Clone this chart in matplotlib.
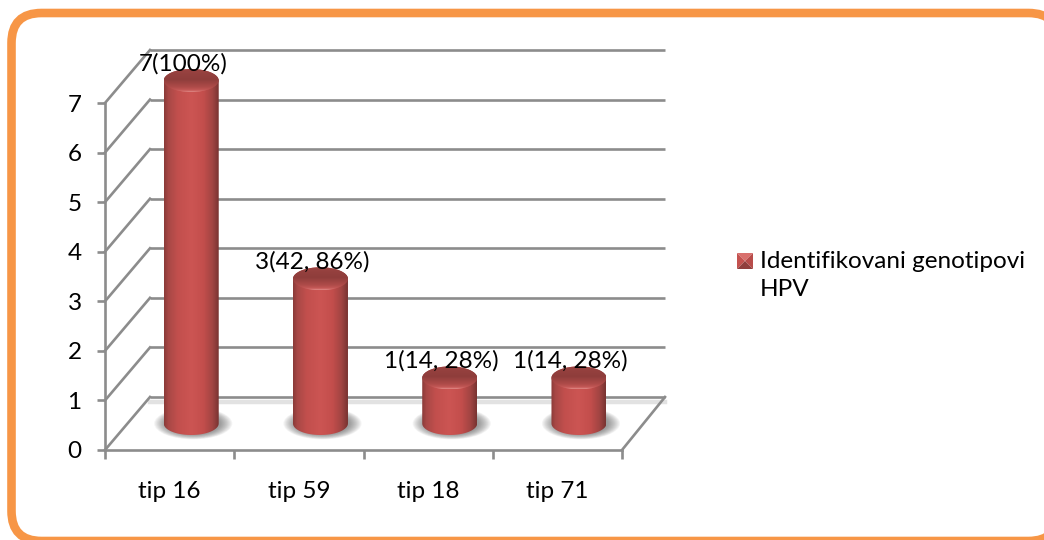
import numpy as np
import matplotlib
matplotlib.use("Agg")
import matplotlib.pyplot as plt
from matplotlib.patches import FancyBboxPatch, Ellipse, Polygon, PathPatch
from matplotlib.path import Path
from matplotlib.colors import LinearSegmentedColormap
from matplotlib.transforms import ScaledTranslation

categories = ["tip 16", "tip 59", "tip 18", "tip 71"]
values = [7, 3, 1, 1]
data_labels = ["7(100%)", "3(42, 86%)", "1(14, 28%)", "1(14, 28%)"]
y_ticks = [0, 1, 2, 3, 4, 5, 6, 7]
legend_text = "Identifikovani genotipovi\nHPV"

W, H = 1044, 540
plt.rcParams["font.family"] = ["Lato", "DejaVu Sans"]
FS = 17.5
GRID = "#8c8c8c"
fig = plt.figure(figsize=(W / 100, H / 100), dpi=100, facecolor="white")

# page frame and decoration layer, in pixels
bg = fig.add_axes([0, 0, 1, 1])
bg.set_xlim(0, W); bg.set_ylim(H, 0); bg.axis("off")
bg.add_patch(FancyBboxPatch((11.5, 13), 1047, 528, boxstyle="round,pad=0,rounding_size=30",
                            fc="white", ec="#F79646", lw=6.2, clip_on=True))

L, R, B, T = 105, 622, 450, 103
ax = fig.add_axes([L / W, 1 - B / H, (R - L) / W, (B - T) / H], facecolor="none")
ax.set_xlim(-0.5, len(categories) - 0.5)
ax.set_ylim(0, 7)
xmin, xmax = ax.get_xlim()

DX, DY = 45, 53
def shifted(px, py):
    return ax.transData + ScaledTranslation(px / 100, py / 100, fig.dpi_scale_trans)
back = shifted(DX, DY)
mid = shifted(DX * 0.48, DY * 0.5)
px_y = 7 / (B - T)
px_x = (xmax - xmin) / (R - L)
back_end = xmax - 2 * px_x

# walls and floor
lw_grid = 1.9
for v in y_ticks:
    ax.plot([xmin, back_end], [v, v], transform=back, color=GRID, lw=lw_grid, clip_on=False, zorder=1,
            solid_capstyle="butt")
    dx_d, dy_d = DX * px_x, DY * px_y
    ax.plot([xmin, xmin + dx_d], [v, v + dy_d], color=GRID, lw=lw_grid, clip_on=False, zorder=1)
ax.plot([xmin, back_end], [-5 * px_y, -5 * px_y], transform=back, color="#e2e2e2", lw=3.2,
        clip_on=False, zorder=0.9)
ax.plot([xmax, back_end + DX * px_x], [0, DY * px_y], color=GRID, lw=lw_grid, clip_on=False, zorder=1)

# cylinders
cm_body = LinearSegmentedColormap.from_list("body", [
    (0.0, "#8a3a38"), (0.08, "#a84846"), (0.25, "#c24f4d"), (0.5, "#cc5553"),
    (0.72, "#c34e4c"), (0.88, "#a24543"), (1.0, "#783331")])
cm_top = LinearSegmentedColormap.from_list("top", [
    (0.0, "#9a4341"), (0.45, "#8e3d3b"), (0.8, "#b04c4a"), (0.93, "#c65a58"), (1.0, "#e08a86")])
half_w = 27.5 * px_x
rx, ry = half_w, 11.5 * px_y
inset = 4 * px_y
grad = np.linspace(0, 1, 256).reshape(1, -1)

for i, (v, lab) in enumerate(zip(values, data_labels)):
    top = v - inset
    # shadow on the floor
    for k in np.linspace(1.42, 1.0, 12):
        ax.add_patch(Ellipse((i + 2 * px_x, 0), 2 * rx * k, 2 * ry * (1 + (k - 1) * 0.9),
                             transform=mid, fc="#404040", ec="none", alpha=0.055,
                             zorder=2, clip_on=False))
    t = np.linspace(np.pi, 2 * np.pi, 40)
    arc_x = i + rx * np.cos(t)
    bot_y = ry * np.sin(t)
    verts = [(i - rx, top)] + list(zip(arc_x, bot_y)) + [(i + rx, top)]
    t2 = np.linspace(0, np.pi, 40)
    verts += list(zip(i + rx * np.cos(t2), top + ry * np.sin(t2))) + [(i - rx, top)]
    body = PathPatch(Path(verts), transform=mid, fc="none", ec="none", zorder=3, clip_on=False)
    ax.add_patch(body)
    im = ax.imshow(grad, cmap=cm_body, extent=(i - rx, i + rx, -ry, top + ry), aspect="auto",
                   transform=mid, zorder=3)
    im.set_clip_box(fig.bbox)
    im.set_clip_path(body)
    cap = Ellipse((i, top), 2 * rx, 2 * ry, transform=mid, fc="none", ec="none", zorder=4, clip_on=False)
    ax.add_patch(cap)
    gy = np.linspace(0, 1, 64).reshape(-1, 1)
    im2 = ax.imshow(gy, cmap=cm_top, extent=(i - rx, i + rx, top - ry, top + ry), aspect="auto",
                    origin="upper", transform=mid, zorder=4)
    im2.set_clip_box(fig.bbox)
    im2.set_clip_path(cap)
    ax.annotate(lab, xy=(i, v), xycoords=mid, xytext=(-8.5, 13), textcoords="offset pixels",
                ha="center", va="center", fontsize=FS, color="black", zorder=6,
                annotation_clip=False)
ax.set_xlim(xmin, xmax)
ax.set_ylim(0, 7)

# axes
for s in ["top", "right"]:
    ax.spines[s].set_visible(False)
for s in ["left", "bottom"]:
    ax.spines[s].set_color(GRID); ax.spines[s].set_linewidth(lw_grid); ax.spines[s].set_zorder(1.5)
ax.set_yticks(y_ticks)
ax.set_xticks(range(len(categories)))
ax.set_xticklabels(categories)
ax.set_xticks(np.arange(xmin, xmax + 0.5), minor=True)
ax.tick_params(axis="x", which="major", length=0, pad=22.5, labelsize=FS)
ax.tick_params(axis="x", which="minor", length=6.5, width=lw_grid, color=GRID)
ax.tick_params(axis="y", length=5.8, width=lw_grid, color=GRID, pad=11, labelsize=FS)

# legend
x0, y0, x1, y1 = 737, 253, 753, 269
cx, cy = (x0 + x1) / 2, (y0 + y1) / 2
for pts, c in [([(x0, y0), (x1, y0), (cx, cy)], "#d9706d"),
               ([(x0, y0), (x0, y1), (cx, cy)], "#c4524f"),
               ([(x1, y0), (x1, y1), (cx, cy)], "#b84c4a"),
               ([(x0, y1), (x1, y1), (cx, cy)], "#903f3d")]:
    bg.add_patch(Polygon(pts, fc=c, ec="none"))
bg.text(760, 251.5, legend_text, ha="left", va="top", fontsize=FS, linespacing=1.38, color="black")

fig.savefig("out.png", dpi=100)
